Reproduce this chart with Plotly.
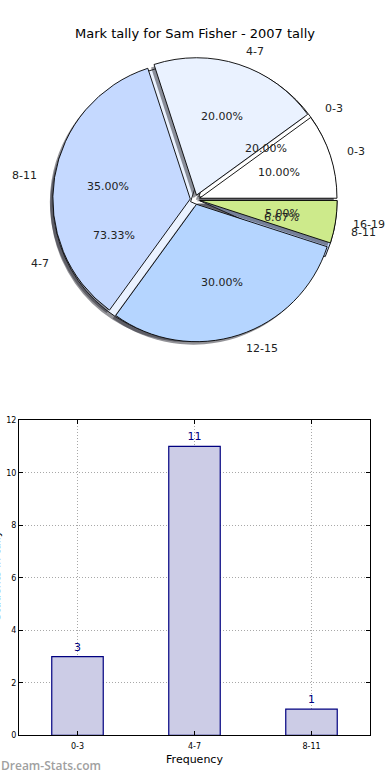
import numpy as np
import plotly.graph_objects as go

# ---------------- data ----------------
title_text = "Mark tally for Sam Fisher - 2007 tally"
ranges_a = ["0-3", "4-7", "8-11", "12-15", "16-19"]
counts_a = [2, 4, 7, 6, 1]            # 10%, 20%, 35%, 30%, 5%
ranges_b = ["0-3", "4-7", "8-11"]
counts_b = [3, 11, 1]                 # 20%, 73.33%, 6.67%
palette = ["#ffffff", "#eaf2ff", "#c5d9ff", "#b5d5ff", "#cdea8b"]

bar_categories = ["0-3", "4-7", "8-11"]
bar_values = [3, 11, 1]
y_ticks = [0, 2, 4, 6, 8, 10, 12]
x_title = "Frequency"
y_title = "Students in tally"
watermark = "Dream-Stats.com"

# ---------------- geometry ----------------
W, H = 390, 780
CX, CY = 195, 198
R = 139
PULL = 0.035
RD = R * (1 + PULL)
FONT = "DejaVu Sans"


def dom(dx=0.0, dy=0.0):
    return dict(x=[(CX - RD + dx) / W, (CX + RD + dx) / W],
                y=[1 - (CY + RD + dy) / H, 1 - (CY - RD + dy) / H])


def pie(labels, counts, colors, d, line_col, line_w):
    # first slice starts at 3 o'clock and runs counterclockwise
    first = counts[0] / float(sum(counts))
    return go.Pie(labels=labels, values=counts, sort=False,
                  direction="counterclockwise", rotation=90 - 360 * first,
                  pull=[PULL] * len(labels),
                  marker=dict(colors=colors, line=dict(color=line_col, width=line_w)),
                  textinfo="none", hoverinfo="skip", showlegend=False,
                  domain=d)


fig = go.Figure()
shadow_col = "rgba(40,40,50,0.5)"
fig.add_trace(pie(ranges_b, counts_b, [shadow_col] * 3, dom(-3, 3), "rgba(0,0,0,0)", 0))
fig.add_trace(pie(ranges_b, counts_b, palette[:3], dom(), "black", 0.9))
fig.add_trace(pie(ranges_a, counts_a, [shadow_col] * 5, dom(-3, 3), "rgba(0,0,0,0)", 0))
fig.add_trace(pie(ranges_a, counts_a, palette, dom(), "black", 0.9))

annotations = []


def px(x, y):
    return x / W, 1 - y / H


def pie_texts(labels, counts):
    tot = float(sum(counts))
    start = 0.0
    for lab, c in zip(labels, counts):
        frac = c / tot
        mid = (start + frac / 2) * 2 * np.pi
        start += frac
        ox = CX + PULL * R * np.cos(mid)
        oy = CY - PULL * R * np.sin(mid)
        x, y = px(ox + 0.6 * R * np.cos(mid), oy - 0.6 * R * np.sin(mid))
        annotations.append(dict(x=x, y=y, xref="paper", yref="paper",
                                text=f"{frac * 100:.2f}%", showarrow=False,
                                xanchor="center", yanchor="middle",
                                font=dict(family=FONT, size=11, color="#222")))
        x, y = px(ox + 1.1 * R * np.cos(mid), oy - 1.1 * R * np.sin(mid))
        annotations.append(dict(x=x, y=y, xref="paper", yref="paper",
                                text=lab, showarrow=False,
                                xanchor="left" if np.cos(mid) > 0 else "right",
                                yanchor="middle",
                                font=dict(family=FONT, size=11, color="#222")))


pie_texts(ranges_b, counts_b)
pie_texts(ranges_a, counts_a)

# ---------------- bar chart ----------------
fig.add_trace(go.Bar(x=bar_categories, y=bar_values, width=0.44,
                     marker=dict(color="#ccccE6", line=dict(color="#000080", width=1.2)),
                     text=[str(v) for v in bar_values], textposition="outside",
                     textfont=dict(family=FONT, size=11, color="#000080"),
                     cliponaxis=False, hoverinfo="skip", showlegend=False,
                     xaxis="x", yaxis="y"))

annotations.append(dict(x=0.5, y=1 - 30 / H, xref="paper", yref="paper",
                        text=title_text, showarrow=False, xanchor="center", yanchor="middle",
                        font=dict(family=FONT, size=13, color="black")))
annotations.append(dict(x=-4 / W, y=1 - 578 / H, xref="paper", yref="paper",
                        text=y_title, showarrow=False, textangle=-90,
                        xanchor="center", yanchor="middle",
                        font=dict(family=FONT, size=11, color="black")))
annotations.append(dict(x=-1 / W, y=1 - 770 / H, xref="paper", yref="paper",
                        text=watermark, showarrow=False,
                        xanchor="left", yanchor="middle",
                        font=dict(family="Open Sans", size=12, color="#a0a0a0", weight=600)))

grid = dict(showgrid=True, gridcolor="#a8a8a8", griddash="1px,2px", gridwidth=1)
fig.update_layout(
    width=W, height=H, margin=dict(l=0, r=0, t=0, b=0),
    paper_bgcolor="white", plot_bgcolor="white",
    font=dict(family=FONT, color="black"),
    annotations=annotations,
    xaxis=dict(domain=[19 / W, 370 / W], anchor="y", type="category",
               range=[-0.5, 2.5], showline=True, linecolor="black", linewidth=1,
               mirror="ticks", ticks="inside", ticklen=4, tickcolor="black",
               tickfont=dict(family=FONT, size=8), ticklabelstandoff=3,
               title=dict(text=x_title, font=dict(family=FONT, size=11), standoff=5),
               zeroline=False, **grid),
    yaxis=dict(domain=[1 - 740 / H, 1 - 421 / H], anchor="x",
               range=[0, 12], tickvals=y_ticks, showline=True, linecolor="black",
               linewidth=1, mirror="ticks", ticks="inside", ticklen=4, tickcolor="black",
               tickfont=dict(family=FONT, size=8), zeroline=False, **grid),
)

fig.write_html("out.html", config={"displayModeBar": False},
               post_script="document.body.style.margin='0';document.body.style.overflow='hidden';")
